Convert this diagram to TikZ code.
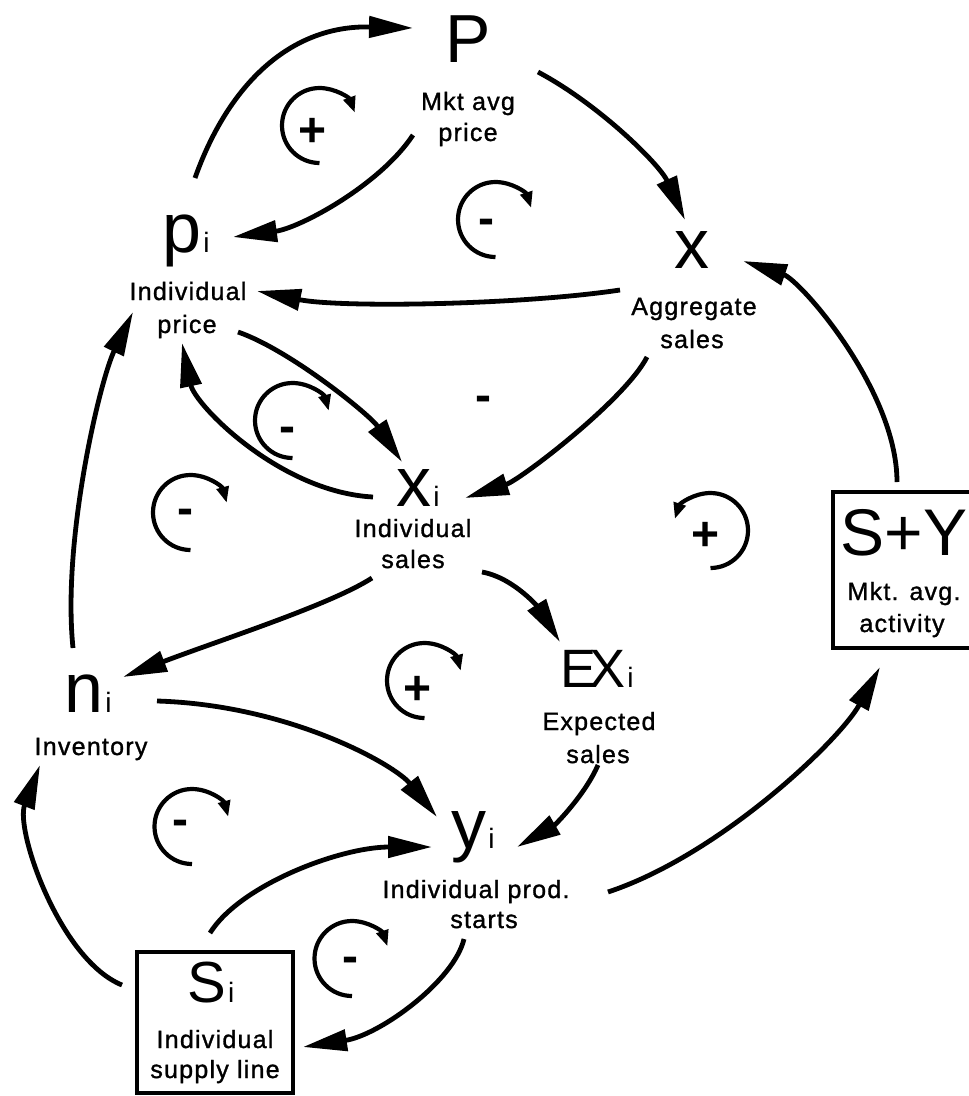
\documentclass[tikz,border=0pt]{standalone}
\usepackage{fontspec}
\setmainfont{Liberation Sans}
\newfontfamily\lblfamily[LetterSpace=5,FakeBold=1.2]{Liberation Sans}
\usetikzlibrary{arrows.meta}

% big variable letter and its small index
\newcommand\bigsym[1]{{\fontsize{70}{70}\selectfont #1}}
\newcommand\subidx[1]{\kern2pt{\fontsize{28}{28}\selectfont #1}}

\begin{document}
\begin{tikzpicture}[x=1pt,y=-1pt,
  conn/.style={line width=4.8pt,-{Triangle[length=44pt,width=21pt]}},
  loopcw/.style={line width=4.2pt,-{Triangle[length=16pt,width=12pt]}},
  var/.style={inner sep=0pt,anchor=base},
  lbl/.style={inner sep=0pt,anchor=base,font=\lblfamily\fontsize{25}{30}\selectfont},
  plussign/.style={inner sep=0pt,anchor=base,yshift=-17pt,font=\bfseries\fontsize{48}{48}\selectfont},
  minussign/.style={inner sep=0pt,anchor=base,yshift=-11.5pt,font=\bfseries\fontsize{48}{48}\selectfont},
  framebox/.style={draw,line width=3.4pt,inner sep=0pt}
]
\fill[white] (0,0) rectangle (969,1096);
\useasboundingbox (0,0) rectangle (969,1096);

% ---------------- variables ----------------
\node[var,font=\fontsize{68}{68}\selectfont] (P) at (468,62) {P};
\node[lbl] (Pl1) at (468,110) {Mkt avg};
\node[lbl] (Pl2) at (468,141) {price};

\node[var] (pi) at (186,252) {\bigsym{p}\subidx{i}};
\node[lbl] (pil1) at (188,300) {Individual};
\node[lbl] (pil2) at (187,333) {price};

\node[var] (x) at (692,268) {\bigsym{x}};
\node[lbl] (xl1) at (694,315) {Aggregate};
\node[lbl] (xl2) at (692,348) {sales};

\node[var] (xi) at (418,506) {\bigsym{x}\subidx{i}};
\node[lbl] (xil1) at (413,537) {Individual};
\node[lbl] (xil2) at (413,568) {sales};

\node[var] (EXi) at (597,687) {{\fontsize{54}{54}\selectfont E\kern-7pt X}\subidx{i}};
\node[lbl] (EXl1) at (599,730) {Expected};
\node[lbl] (EXl2) at (598,763) {sales};

\node[var] (ni) at (88,712) {\bigsym{n}\subidx{i}};
\node[lbl] (nil) at (91,755) {Inventory};

\node[var] (yi) at (473,848) {\bigsym{y}\subidx{i}};
\node[lbl] (yil1) at (476,898) {Individual prod.};
\node[lbl] (yil2) at (484,928) {starts};

\node[framebox,minimum width=156pt,minimum height=141pt] (Sibox) at (215,1022.5) {};
\node[var] (Si) at (211,1002) {{\fontsize{58}{58}\selectfont S}\subidx{i}};
\node[lbl] (Sil1) at (215,1048) {Individual};
\node[lbl] (Sil2) at (215,1078) {supply line};

\node[framebox,minimum width=170pt,minimum height=156pt] (SYbox) at (918,570) {};
\node[var,font=\fontsize{66}{66}\selectfont] (SY) at (904,555) {S+Y};
\node[lbl] (SYl1) at (904,600) {Mkt. avg.};
\node[lbl] (SYl2) at (902,632) {activity};

% ---------------- causal links ----------------
\draw[conn] ([shift={(9,-74)}]pi.base) .. controls +(33,-93) and +(-123,-3) .. ([shift={(-55,-34)}]P.base);
\draw[conn] ([shift={(-55,73)}]P.base) .. controls +(-33,50) and +(67,-9) .. ([shift={(47,-15)}]pi.base);
\draw[conn] ([shift={(70,10)}]P.base) .. controls +(62,33) and +(-25,-55) .. ([shift={(-7,-48)}]x.base);
\draw[conn] ([shift={(-72,22)}]x.base) .. controls +(-100,15) and +(83,17) .. ([shift={(71,39)}]pi.base);
\draw[conn] ([shift={(-7,-73)}]SY.base) .. controls +(0,-92) and +(57,19) .. ([shift={(51,-7)}]x.base);
\draw[conn] ([shift={(-45,89)}]x.base) .. controls +(-22,43) and +(55,-18) .. ([shift={(47,-8)}]xi.base);
\draw[conn] ([shift={(52,80)}]pi.base) .. controls +(52,18) and +(-32,-47) .. ([shift={(-16,-44)}]xi.base);
\draw[conn] ([shift={(-45,-9)}]xi.base) .. controls +(-93,-5) and +(13,62) .. ([shift={(-4,91)}]pi.base);
\draw[conn] ([shift={(-15,-64)}]ni.base) .. controls +(-11,-108) and +(-33,68) .. ([shift={(-53,60)}]pi.base);
\draw[conn] ([shift={(-46,72)}]xi.base) .. controls +(-42,27) and +(97,-37) .. ([shift={(35,-35)}]ni.base);
\draw[conn] ([shift={(64,66)}]xi.base) .. controls +(33,6) and +(-20,-32) .. ([shift={(-37,-45)}]EXi.base);
\draw[conn] ([shift={(69,-11)}]ni.base) .. controls +(133,4) and +(-42,-52) .. ([shift={(-36,-31)}]yi.base);
\draw[conn] ([shift={(1,78)}]EXi.base) .. controls +(-13,30) and +(38,-22) .. ([shift={(44,-1)}]yi.base);
\draw[conn] ([shift={(-1,-69)}]Si.base) .. controls +(30,-48) and +(-92,0) .. ([shift={(-41,-1)}]yi.base);
\draw[conn] ([shift={(-9,91)}]yi.base) .. controls +(-10,42) and +(77,-12) .. ([shift={(92,45)}]Si.base);
\draw[conn] ([shift={(-89,-17)}]Si.base) .. controls +(-62,-25) and +(-25,65) .. ([shift={(-48,53)}]ni.base);
\draw[conn] ([shift={(135,44)}]yi.base) .. controls +(112,-37) and +(-40,73) .. ([shift={(-24,112)}]SY.base);

% polarity of the x -> x_i link
\node[minussign] (sx) at (483,400) {-};

% ---------------- feedback loop markers ----------------
\coordinate (L1) at (319.5,125.5);
\coordinate (L2) at (495.5,219.5);
\coordinate (L3) at (292.5,420.5);
\coordinate (L4) at (190.5,512.5);
\coordinate (L5) at (710.5,530.5);
\coordinate (L6) at (424.5,680.5);
\coordinate (L7) at (192,826.5);
\coordinate (L8) at (352,958.5);

\draw[loopcw] ([shift={(90:37.5)}]L1) arc[start angle=90,end angle=340,radius=37.5];
\draw[loopcw] ([shift={(90:37.5)}]L2) arc[start angle=90,end angle=342,radius=37.5];
\draw[loopcw] ([shift={(90:37.5)}]L3) arc[start angle=90,end angle=345,radius=37.5];
\draw[loopcw] ([shift={(90:37.5)}]L4) arc[start angle=90,end angle=345,radius=37.5];
\draw[loopcw] ([shift={(90:37.5)}]L5) arc[start angle=90,end angle=-162,radius=37.5];
\draw[loopcw] ([shift={(90:37.5)}]L6) arc[start angle=90,end angle=345,radius=37.5];
\draw[loopcw] ([shift={(90:37.5)}]L7) arc[start angle=90,end angle=345,radius=37.5];
\draw[loopcw] ([shift={(90:37.5)}]L8) arc[start angle=90,end angle=341,radius=37.5];

\node[plussign]  (s1) at (313,129) {+};
\node[minussign] (s2) at (486,223) {-};
\node[minussign] (s3) at (287,431) {-};
\node[minussign] (s4) at (185,513) {-};
\node[plussign]  (s5) at (706,533) {+};
\node[plussign]  (s6) at (418,687) {+};
\node[minussign] (s7) at (180,824) {-};
\node[minussign] (s8) at (350,961) {-};
\end{tikzpicture}
\end{document}
